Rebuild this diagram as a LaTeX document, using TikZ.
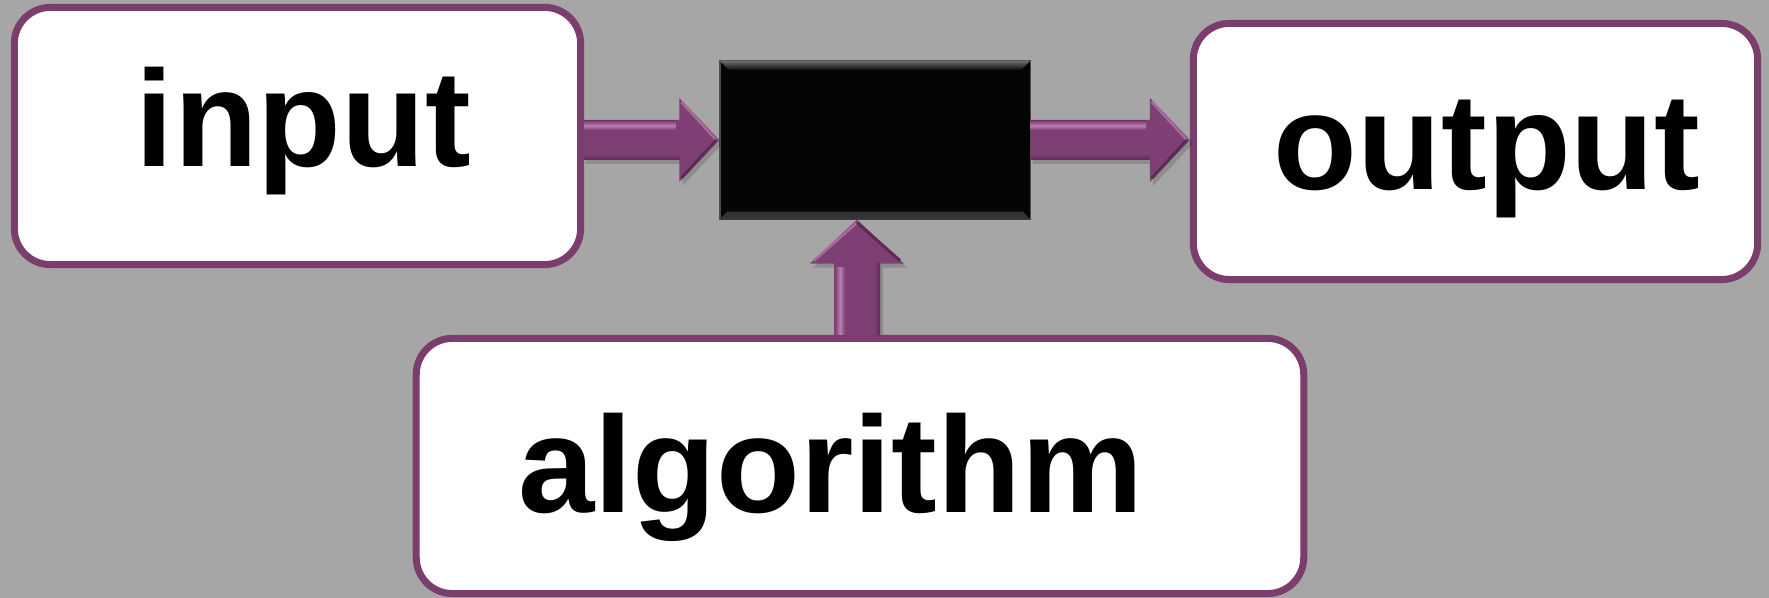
\documentclass[tikz,border=0pt]{standalone}
\usepackage{fontspec}
\setmainfont{Liberation Sans}
\usetikzlibrary{calc}
\definecolor{bg}{HTML}{A6A6A6}
\definecolor{brd}{HTML}{7A3D6C}
\definecolor{arr}{HTML}{7E4074}
\definecolor{arrhi}{HTML}{BC7EB0}
\definecolor{arrdk}{HTML}{5E2B55}
\newcommand{\hblockarrow}[2]{%
  \path (#1) coordinate (s) (#2) coordinate (t);
  \fill[black, opacity=0.15] ($(s)+(2,-16)$) -- ($(t)+(-37,-16)$) -- ($(t)+(-37,-38)$) -- ($(t)+(3,4)$) -- ($(t)+(-37,46)$) -- ($(t)+(-37,24)$) -- ($(s)+(2,24)$) -- cycle;
  \fill[arr] ($(s)+(0,-20)$) -- ($(t)+(-40,-20)$) -- ($(t)+(-40,-42)$) -- (t) -- ($(t)+(-40,42)$) -- ($(t)+(-40,20)$) -- ($(s)+(0,20)$) -- cycle;
  \fill[top color=arr, bottom color=arr, middle color=arrhi] ($(s)+(0,-19)$) rectangle ($(t)+(-44,-10)$);
  \fill[top color=arr, bottom color=arrdk] ($(s)+(0,14)$) rectangle ($(t)+(-40,20)$);
  \draw[arrhi!70!arr, line width=0.025cm] ($(t)+(-38,-38)$) -- ($(t)+(-3,0)$);
  \draw[arrdk, line width=0.03cm] ($(t)+(-38,38)$) -- ($(t)+(-3,0)$);
}
\newcommand{\vblockarrow}[2]{%
  \path (#1) coordinate (s) (#2) coordinate (t);
  \fill[black, opacity=0.15] ($(s)+(-20,0)$) -- ($(t)+(-20,48)$) -- ($(t)+(-44,48)$) -- ($(t)+(3,4)$) -- ($(t)+(50,48)$) -- ($(t)+(26,48)$) -- ($(s)+(26,0)$) -- cycle;
  \fill[arr] ($(s)+(-23,0)$) -- ($(t)+(-23,44)$) -- ($(t)+(-47,44)$) -- (t) -- ($(t)+(47,44)$) -- ($(t)+(23,44)$) -- ($(s)+(23,0)$) -- cycle;
  \fill[left color=arr, right color=arr, middle color=arrhi] ($(s)+(-22,0)$) rectangle ($(t)+(-12,48)$);
  \fill[left color=arr, right color=arrdk] ($(s)+(17,0)$) rectangle ($(t)+(23,44)$);
  \draw[arrhi!70!arr, line width=0.025cm] ($(t)+(-43,41)$) -- ($(t)+(0,3)$);
  \draw[arrdk, line width=0.03cm] ($(t)+(43,41)$) -- ($(t)+(0,3)$);
}
\begin{document}
\begin{tikzpicture}[x=0.01cm, y=-0.01cm,
  roundbox/.style={draw=brd, line width=0.07cm, fill=white, rounded corners=0.36cm, inner sep=0},
  blackbox/.style={draw=black!70, line width=0.012cm, fill=black!98, inner sep=0},
  boxtext/.style={font=\bfseries\fontsize{39}{47}\selectfont, inner sep=0, anchor=base}]
  \fill[bg] (0,0) rectangle (1769,598);
  \useasboundingbox (0,0) rectangle (1769,598);

  \node[roundbox, minimum width=5.66cm, minimum height=2.57cm] (inbox) at (297.5,136) {};
  \node[roundbox, minimum width=5.64cm, minimum height=2.56cm] (outbox) at (1475.5,151.5) {};
  \node[roundbox, minimum width=8.87cm, minimum height=2.55cm] (algbox) at (860,466) {};
  \node[blackbox, minimum width=3.1cm, minimum height=1.58cm] (blk) at (875,140) {};

  % bevel of the black box
  \fill[top color=black!55, bottom color=black!97] (blk.north west) -- (blk.north east) -- ($(blk.north east)+(-10,10)$) -- ($(blk.north west)+(10,10)$) -- cycle;
  \fill[black!80] (blk.south west) -- (blk.south east) -- ($(blk.south east)+(-8,-8)$) -- ($(blk.south west)+(8,-8)$) -- cycle;

  \node[boxtext] (intext) at (303.5,167) {input};
  \node[boxtext] (outtext) at (1487,190) {output};
  \node[boxtext] (algtext) at (830.5,513) {algorithm};

  \hblockarrow{inbox.east |- blk.west}{blk.west}
  \hblockarrow{blk.east}{outbox.west |- blk.east}
  \vblockarrow{$(algbox.north)+(-3,0)$}{$(blk.south -| algbox.north)+(-3,0)$}
\end{tikzpicture}
\end{document}
